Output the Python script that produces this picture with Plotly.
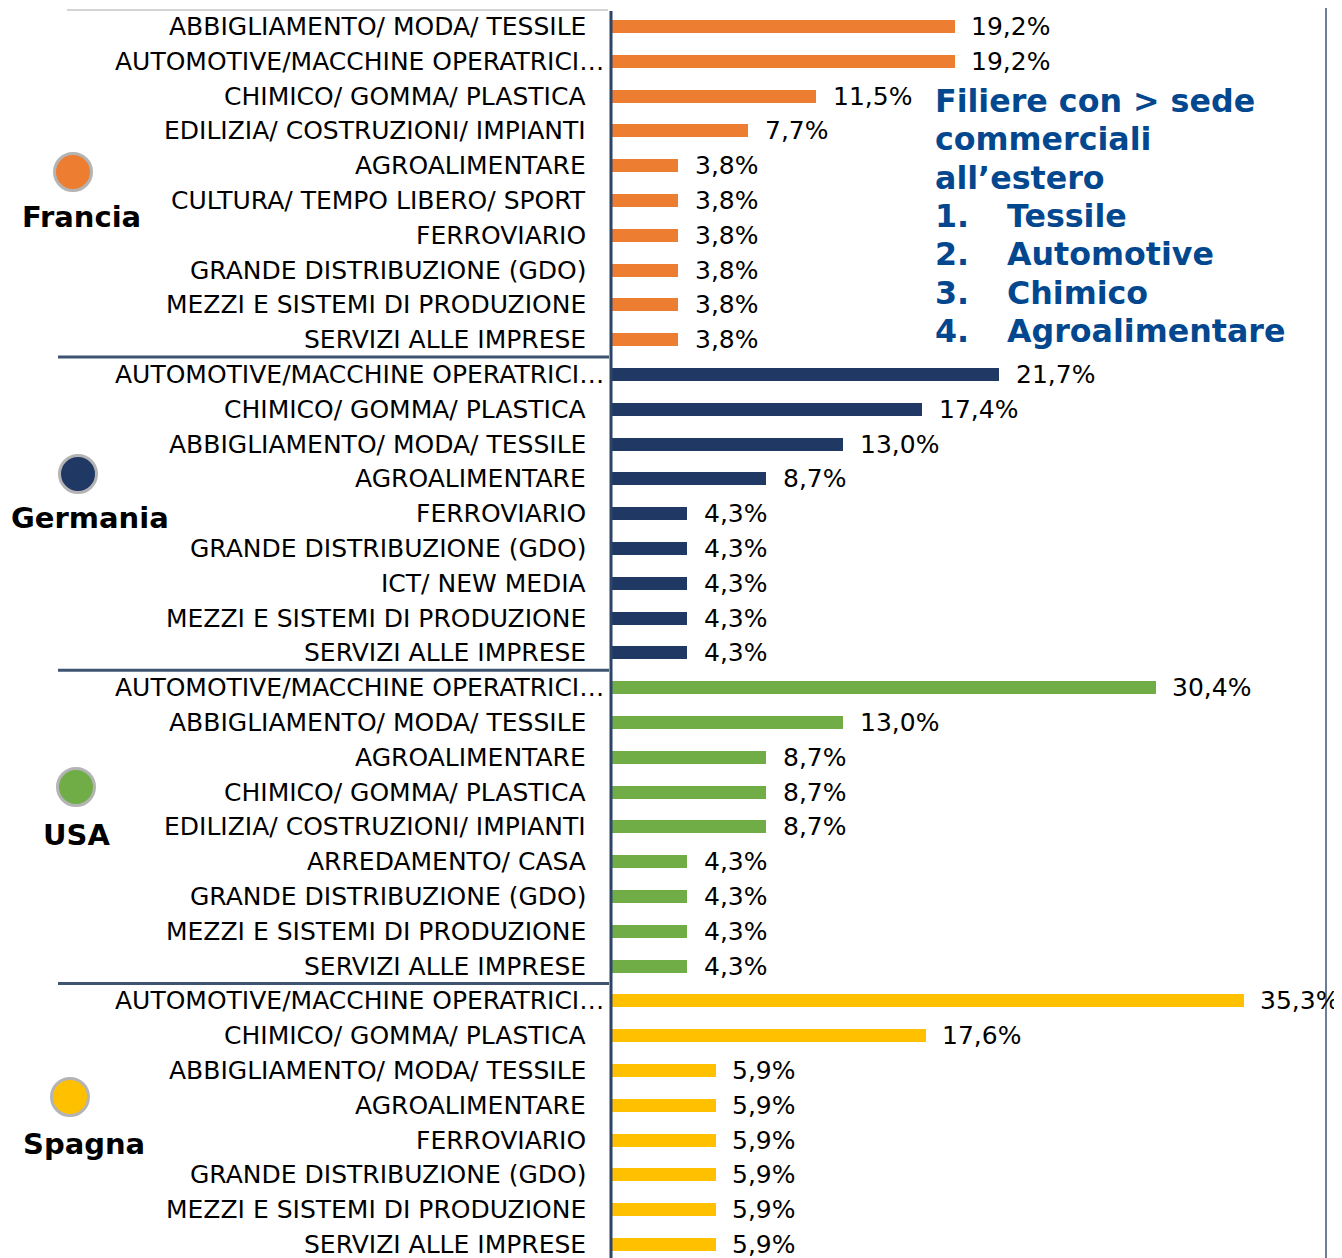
import plotly.graph_objects as go

# window size and the default 8px page margin of the html body
WIN_W, WIN_H = 1342, 1258
OFF = 8
W, H = WIN_W - OFF, WIN_H - OFF

countries = ["Francia", "Germania", "USA", "Spagna"]
palette = ["#ED7D31", "#203864", "#70AD47", "#FFC000"]

francia_labels = [
    "ABBIGLIAMENTO/ MODA/ TESSILE",
    "AUTOMOTIVE/MACCHINE OPERATRICI…",
    "CHIMICO/ GOMMA/ PLASTICA",
    "EDILIZIA/ COSTRUZIONI/ IMPIANTI",
    "AGROALIMENTARE",
    "CULTURA/ TEMPO LIBERO/ SPORT",
    "FERROVIARIO",
    "GRANDE DISTRIBUZIONE (GDO)",
    "MEZZI E SISTEMI DI PRODUZIONE",
    "SERVIZI ALLE IMPRESE",
]
francia_values = [19.2, 19.2, 11.5, 7.7, 3.8, 3.8, 3.8, 3.8, 3.8, 3.8]

germania_labels = [
    "AUTOMOTIVE/MACCHINE OPERATRICI…",
    "CHIMICO/ GOMMA/ PLASTICA",
    "ABBIGLIAMENTO/ MODA/ TESSILE",
    "AGROALIMENTARE",
    "FERROVIARIO",
    "GRANDE DISTRIBUZIONE (GDO)",
    "ICT/ NEW MEDIA",
    "MEZZI E SISTEMI DI PRODUZIONE",
    "SERVIZI ALLE IMPRESE",
]
germania_values = [21.7, 17.4, 13.0, 8.7, 4.3, 4.3, 4.3, 4.3, 4.3]

usa_labels = [
    "AUTOMOTIVE/MACCHINE OPERATRICI…",
    "ABBIGLIAMENTO/ MODA/ TESSILE",
    "AGROALIMENTARE",
    "CHIMICO/ GOMMA/ PLASTICA",
    "EDILIZIA/ COSTRUZIONI/ IMPIANTI",
    "ARREDAMENTO/ CASA",
    "GRANDE DISTRIBUZIONE (GDO)",
    "MEZZI E SISTEMI DI PRODUZIONE",
    "SERVIZI ALLE IMPRESE",
]
usa_values = [30.4, 13.0, 8.7, 8.7, 8.7, 4.3, 4.3, 4.3, 4.3]

spagna_labels = [
    "AUTOMOTIVE/MACCHINE OPERATRICI…",
    "CHIMICO/ GOMMA/ PLASTICA",
    "ABBIGLIAMENTO/ MODA/ TESSILE",
    "AGROALIMENTARE",
    "FERROVIARIO",
    "GRANDE DISTRIBUZIONE (GDO)",
    "MEZZI E SISTEMI DI PRODUZIONE",
    "SERVIZI ALLE IMPRESE",
]
spagna_values = [35.3, 17.6, 5.9, 5.9, 5.9, 5.9, 5.9, 5.9]

groups = [
    (francia_labels, francia_values),
    (germania_labels, germania_values),
    (usa_labels, usa_values),
    (spagna_labels, spagna_values),
]

note_title = ["Filiere con > sede", "commerciali", "all’estero"]
note_nums = ["1.", "2.", "3.", "4."]
note_items = ["Tessile", "Automotive", "Chimico", "Agroalimentare"]

# window pixel -> paper coords
def px(x):
    return (x - OFF) / W

def py(y):
    return 1 - (y - OFF) / H

fig = go.Figure()
annotations = []
shapes = []

label_font = dict(family="DejaVu Sans", size=25, color="#000000")
value_font = dict(family="DejaVu Sans", size=25, color="#000000")

pos = 0
group_starts = []
for (labels, values), color in zip(groups, palette):
    ys = list(range(pos, pos + len(values)))
    group_starts.append(pos)
    fig.add_trace(go.Bar(
        x=values, y=ys, orientation="h",
        marker=dict(color=color, line=dict(width=0)),
        width=0.37, showlegend=False, hoverinfo="x",
    ))
    for yv, lab, val in zip(ys, labels, values):
        annotations.append(dict(
            x=0, y=yv, xref="x", yref="y", text=lab,
            xanchor="right", yanchor="middle", showarrow=False,
            xshift=-4 if lab.endswith("…") else -22, font=label_font,
        ))
        annotations.append(dict(
            x=val, y=yv, xref="x", yref="y",
            text=("%.1f%%" % val).replace(".", ","),
            xanchor="left", yanchor="middle", showarrow=False,
            xshift=14, font=value_font,
        ))
    pos += len(values)

# group separators
for start in group_starts[1:]:
    shapes.append(dict(type="line", xref="paper", yref="y",
                       x0=px(58), x1=px(609), y0=start - 0.5, y1=start - 0.5,
                       line=dict(color="#3E5470", width=3)))
# top grey line
shapes.append(dict(type="line", xref="paper", yref="paper",
                   x0=px(67), x1=px(608), y0=py(10), y1=py(10),
                   line=dict(color="#D4D4D4", width=2)))
# vertical axis line
shapes.append(dict(type="line", xref="paper", yref="paper",
                   x0=px(611), x1=px(611), y0=py(11), y1=0,
                   line=dict(color="#2C4468", width=3)))
# right border
shapes.append(dict(type="line", xref="paper", yref="paper",
                   x0=px(1326), x1=px(1326), y0=py(0), y1=0,
                   line=dict(color="#3E5470", width=1.5)))

# country markers and names
marker_pos = [(73, 172), (78, 474), (76, 787), (70, 1097)]
name_pos = [(81, 217), (90, 518), (76, 835), (84, 1144)]
for name, color, (cx, cy), (nx, ny) in zip(countries, palette, marker_pos, name_pos):
    r = 18.5
    shapes.append(dict(type="circle", xref="paper", yref="paper",
                       x0=px(cx - r), x1=px(cx + r), y0=py(cy + r), y1=py(cy - r),
                       fillcolor=color, line=dict(color="#B4B4B4", width=3)))
    annotations.append(dict(
        x=px(nx), y=py(ny), xref="paper", yref="paper", text=name,
        xanchor="center", yanchor="middle", showarrow=False,
        font=dict(family="DejaVu Sans", size=29, color="#000000", weight="bold"),
    ))

# note box on the right, one line at a time
note_font = dict(family="DejaVu Sans", size=31.7, color="#03478F", weight="bold")
line_y = 101
for txt in note_title:
    annotations.append(dict(
        x=px(933), y=py(line_y), xref="paper", yref="paper", text=txt,
        xanchor="left", yanchor="middle", showarrow=False, font=note_font,
    ))
    line_y += 38.3
for num, item in zip(note_nums, note_items):
    annotations.append(dict(
        x=px(933), y=py(line_y), xref="paper", yref="paper", text=num,
        xanchor="left", yanchor="middle", showarrow=False, font=note_font,
    ))
    annotations.append(dict(
        x=px(1005), y=py(line_y), xref="paper", yref="paper", text=item,
        xanchor="left", yanchor="middle", showarrow=False, font=note_font,
    ))
    line_y += 38.3

fig.update_layout(
    width=W, height=H,
    margin=dict(l=0, r=0, t=0, b=0, pad=0),
    paper_bgcolor="white", plot_bgcolor="white",
    bargap=0, barmode="overlay",
    xaxis=dict(domain=[(610.4 - OFF) / W, 1], range=[0, 40.76],
               visible=False, fixedrange=True),
    yaxis=dict(range=[35.388, -0.5316], visible=False, fixedrange=True),
    annotations=annotations, shapes=shapes,
    font=dict(family="DejaVu Sans"),
)

fig.write_html("out.html")
